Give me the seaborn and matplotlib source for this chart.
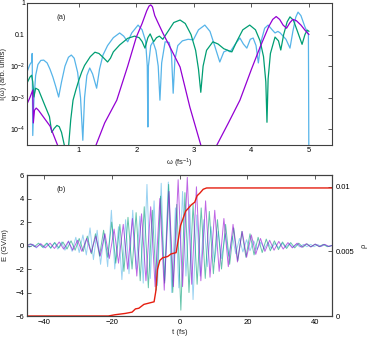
import numpy as np
import pandas as pd
import matplotlib
matplotlib.use("Agg")
import matplotlib.pyplot as plt
import seaborn as sns
from matplotlib.ticker import FixedLocator, FixedFormatter

# ---- panel (a): spectra, log10 of intensity ----
w_purple = [0.1, 0.15, 0.2, 0.21, 0.23, 0.26, 0.3, 0.4, 0.5, 0.63, 0.75, 1.0, 1.2, 1.3,
            1.45, 1.66, 1.85, 2.0, 2.1, 2.18, 2.22, 2.25, 2.28, 2.32, 2.37, 2.46, 2.6, 2.76,
            2.93, 3.12, 3.25, 3.4, 3.6, 3.8, 4.0, 4.15, 4.3, 4.37, 4.43, 4.49, 4.55, 4.61,
            4.67, 4.72, 4.78, 4.86, 4.93, 5.0]
logI_purple = [-3.2, -3.0, -2.76, -3.8, -3.4, -3.33, -3.4, -3.65, -3.9, -4.5, -5.2, -6.0, -5.2, -4.5,
               -3.8, -3.08, -2.0, -1.08, -0.65, -0.25, -0.1, -0.06, -0.12, -0.4, -0.6, -0.95, -1.45, -2.03,
               -3.3, -4.5, -5.5, -4.5, -3.8, -3.08, -2.1, -1.4, -0.75, -0.52, -0.43, -0.52, -0.7, -0.8,
               -0.62, -0.52, -0.56, -0.7, -0.86, -1.0]

w_green = [0.1, 0.15, 0.18, 0.2, 0.22, 0.25, 0.3, 0.4, 0.49, 0.53, 0.57, 0.62, 0.66, 0.7,
           0.76, 0.79, 0.82, 0.86, 0.9, 0.95, 1.0, 1.05, 1.1, 1.2, 1.28, 1.35, 1.42, 1.5,
           1.55, 1.6, 1.71, 1.85, 1.97, 2.05, 2.1, 2.15, 2.2, 2.24, 2.3, 2.35, 2.4, 2.46,
           2.55, 2.65, 2.76, 2.85, 2.95, 3.03, 3.08, 3.12, 3.16, 3.22, 3.33, 3.42, 3.52, 3.66,
           3.75, 3.85, 3.97, 4.07, 4.15, 4.21, 4.25, 4.27, 4.29, 4.33, 4.41, 4.47, 4.51, 4.56,
           4.62, 4.67, 4.73, 4.8, 4.88, 4.93, 4.97, 5.0]
logI_green = [-2.54, -2.35, -2.29, -2.5, -2.98, -2.7, -2.75, -3.2, -3.6, -4.1, -3.98, -3.88, -3.92, -4.1,
              -4.6, -5.2, -4.6, -3.7, -3.08, -2.75, -2.45, -2.19, -1.98, -1.7, -1.56, -1.6, -1.72, -1.87,
              -1.75, -1.55, -1.33, -1.12, -1.05, -1.1, -1.22, -1.43, -1.1, -0.98, -1.23, -1.1, -1.05, -1.15,
              -0.9, -0.62, -0.54, -0.65, -1.0, -1.5, -2.1, -2.83, -2.0, -1.5, -1.23, -1.3, -1.45, -1.55,
              -1.2, -0.85, -0.7, -0.85, -1.2, -1.7, -2.5, -3.78, -2.4, -1.6, -1.08, -1.2, -1.49, -1.0,
              -0.6, -0.44, -0.55, -0.9, -1.31, -1.0, -0.86, -0.9]

w_cyan = [0.1, 0.15, 0.18, 0.19, 0.2, 0.22, 0.25, 0.29, 0.34, 0.39, 0.45, 0.5, 0.55, 0.6,
          0.65, 0.7, 0.76, 0.82, 0.87, 0.92, 0.98, 1.03, 1.07, 1.1, 1.14, 1.19, 1.24, 1.31,
          1.36, 1.42, 1.5, 1.6, 1.71, 1.78, 1.85, 1.92, 2.03, 2.1, 2.16, 2.19, 2.2, 2.21,
          2.25, 2.29, 2.34, 2.38, 2.41, 2.44, 2.5, 2.57, 2.61, 2.64, 2.67, 2.72, 2.8, 2.9,
          2.99, 3.08, 3.19, 3.28, 3.36, 3.45, 3.52, 3.58, 3.63, 3.72, 3.8, 3.86, 3.92, 3.98,
          4.03, 4.08, 4.12, 4.17, 4.23, 4.29, 4.36, 4.41, 4.46, 4.5, 4.6, 4.67, 4.72, 4.77,
          4.81, 4.86, 4.93, 4.99, 5.0]
logI_cyan = [-2.19, -1.95, -1.87, -1.6, -4.2, -3.08, -2.3, -1.95, -1.82, -1.81, -1.9, -2.1, -2.35, -2.65,
             -2.98, -2.5, -2.0, -1.72, -1.65, -1.75, -2.2, -3.0, -4.35, -3.0, -2.3, -2.06, -2.25, -2.7,
             -2.1, -1.65, -1.35, -1.1, -0.95, -1.05, -1.23, -0.95, -0.7, -0.85, -1.2, -2.0, -3.93, -2.0,
             -1.35, -1.23, -1.5, -2.0, -3.08, -1.9, -1.23, -1.25, -1.6, -2.86, -1.8, -1.35, -1.2, -1.15,
             -1.17, -0.85, -0.7, -0.9, -1.35, -1.87, -1.55, -1.5, -1.55, -1.3, -1.11, -1.3, -1.43, -1.15,
             -1.11, -1.35, -1.9, -1.2, -0.8, -0.7, -0.85, -0.95, -0.9, -0.95, -1.15, -1.43, -0.9, -0.45,
             -0.29, -0.4, -0.76, -1.0, -6.0]

# ---- panel (b): field extrema (GV/m) and ionisation fraction ----
t_purple = [-45.0, -43.6, -42.3, -40.9, -39.6, -38.2, -36.9, -35.5, -34.2, -32.8, -31.5, -30.1,
            -28.8, -27.4, -26.1, -24.7, -23.4, -22.0, -20.7, -19.3, -18.0, -16.6, -15.3, -13.9,
            -12.6, -11.2, -9.9, -8.5, -7.2, -5.8, -4.5, -3.1, -1.8, -0.4, 0.9, 2.3, 3.6, 5.0,
            6.3, 7.7, 9.0, 10.4, 11.7, 13.1, 14.4, 15.8, 17.1, 18.5, 19.8, 21.2, 22.5, 23.9,
            25.2, 26.6, 27.9, 29.3, 30.6, 32.0, 33.3, 34.7, 36.0, 37.4, 38.7, 40.1, 41.4, 42.8,
            44.1, 45.0]
E_purple = [0.0, 0.12, -0.15, 0.15, -0.2, 0.2, -0.25, 0.3, -0.3, 0.35, -0.4, 0.45,
            -0.5, 0.6, -0.6, 0.8, -0.9, 1.0, -1.1, 1.4, -1.5, 1.8, -2.0, 2.3,
            -2.6, 2.7, -3.0, 3.3, -3.5, 4.0, -3.8, 4.6, -3.5, 5.6, -3.5, 5.8, -3.3, 5.0,
            -3.0, 3.8, -2.7, 3.0, -2.2, 2.3, -1.8, 1.8, -1.4, 1.2, -1.0, 0.9, -0.75, 0.6,
            -0.5, 0.45, -0.4, 0.35, -0.3, 0.25, -0.2, 0.2, -0.15, 0.15, -0.12, 0.12, -0.1, 0.1,
            -0.08, 0.0]

t_green = [-45.0, -44.0, -42.8, -41.6, -40.4, -39.2, -38.0, -36.8, -35.6, -34.4, -33.2, -32.0,
           -30.8, -29.6, -28.4, -27.2, -26.0, -24.8, -23.6, -22.4, -21.2, -20.0, -18.8, -17.6,
           -16.4, -15.2, -14.0, -12.8, -11.6, -10.4, -9.2, -8.0, -6.8, -5.6, -4.4, -3.2, -2.0,
           -0.8, 0.4, 1.6, 2.8, 4.0, 5.2, 6.4, 7.6, 8.8, 10.0, 11.2, 12.4, 13.6, 14.8, 16.0,
           17.2, 18.4, 19.6, 20.8, 22.0, 23.2, 24.4, 25.6, 26.8, 28.0, 29.2, 30.4, 31.6, 32.8,
           34.0, 35.2, 36.4, 37.6, 38.8, 40.0, 41.2, 42.4, 43.6, 45.0]
E_green = [0.0, 0.15, -0.1, 0.2, -0.15, 0.2, -0.2, 0.25, -0.2, 0.3, -0.3, 0.4,
           -0.4, 0.6, -0.5, 0.8, -0.7, 1.0, -0.9, 1.3, -1.0, 2.0, -1.5, 1.8,
           -2.2, 2.4, -2.0, 2.8, -3.0, 3.3, -3.6, 3.0, -3.8, 4.2, -3.2, 5.2, -4.0,
           3.5, -5.5, 4.5, -4.0, 3.5, -3.3, 3.2, -2.8, 2.9, -2.4, 2.2, -2.0, 1.8, -1.6, 1.5,
           -1.3, 1.2, -1.0, 1.0, -0.8, 0.7, -0.6, 0.55, -0.45, 0.4, -0.35, 0.3, -0.25, 0.25,
           -0.2, 0.2, -0.15, 0.15, -0.12, 0.12, -0.1, 0.1, -0.1, 0.0]

t_cyan = [-45.0, -44.3, -43.2, -42.2, -41.1, -40.1, -39.0, -38.0, -36.9, -35.9, -34.8, -33.8,
          -32.7, -31.7, -30.6, -29.6, -28.5, -27.5, -26.4, -25.4, -24.3, -23.3, -22.2, -21.2,
          -20.1, -19.1, -18.0, -17.0, -15.9, -14.9, -13.8, -12.8, -11.7, -10.7, -9.6, -8.6,
          -7.5, -6.5, -5.4, -4.4, -3.3, -2.3, -1.2, -0.2, 0.9, 1.9, 3.0, 4.0, 5.1, 6.1, 7.2,
          8.2, 9.3, 10.3, 11.4, 12.4, 13.5, 14.5, 15.6, 16.6, 17.7, 18.7, 19.8, 20.8, 21.9,
          22.9, 24.0, 25.0, 26.1, 27.1, 28.2, 29.2, 30.3, 31.3, 32.4, 33.4, 34.5, 35.5, 36.6,
          37.6, 38.7, 39.7, 40.8, 41.8, 42.9, 43.9, 45.0]
E_cyan = [0.0, -0.15, 0.1, -0.2, 0.15, -0.2, 0.2, -0.25, 0.25, -0.3, 0.3, -0.4,
          0.4, -0.5, 0.7, -0.6, 0.9, -0.8, 1.5, -1.2, 1.3, -1.6, 1.0, -1.8,
          3.0, -2.0, 1.6, -2.9, 2.2, -2.4, 3.0, -2.0, 2.5, -3.2, 5.2, -2.8,
          3.8, -3.4, 5.3, -3.0, 5.4, -4.0, 3.2, -3.6, 4.6, -2.6, 3.5, -4.6, 2.6, -2.6, 2.2,
          -1.8, 1.6, -1.4, 1.2, -1.1, 1.0, -0.9, 0.8, -0.7, 0.6, -0.55, 0.5, -0.45, 0.4,
          -0.35, 0.3, -0.3, 0.25, -0.25, 0.2, -0.2, 0.2, -0.15, 0.15, -0.15, 0.12, -0.12, 0.1,
          -0.1, 0.1, -0.1, 0.08, -0.08, 0.08, -0.08, 0.0]

t_rho = [-45.0, -21.0, -19.0, -16.0, -14.0, -13.0, -12.0, -11.5, -10.5, -9.0, -7.5, -7.0,
         -6.5, -5.8, -5.0, -3.5, -2.5, -1.0, -0.3, 0.3, 1.0, 1.8, 2.5, 3.5, 4.5, 5.2, 6.0,
         7.0, 8.0, 45.0]
rho = [0.0, 0.0, 0.0001, 0.0002, 0.0003, 0.00055, 0.0006, 0.0007, 0.0009, 0.001, 0.0011, 0.0019,
       0.0036, 0.0043, 0.0045, 0.0046, 0.0048, 0.0049, 0.006, 0.007, 0.0075, 0.0081, 0.0083,
       0.0086, 0.0088, 0.0093, 0.0095, 0.0098, 0.0099, 0.0099]

c_purple = "#9400d3"
c_green = "#009e73"
c_cyan = "#56b4e9"
c_red = "#e51e10"

sns.set_style("white")
plt.rcParams["font.family"] = ["Liberation Sans", "DejaVu Sans"]
plt.rcParams["mathtext.fontset"] = "custom"
plt.rcParams["mathtext.rm"] = "Liberation Sans"
plt.rcParams["mathtext.it"] = "Liberation Sans:italic"
plt.rcParams["axes.edgecolor"] = "#404040"
plt.rcParams["axes.linewidth"] = 0.8

fig = plt.figure(figsize=(3.74, 3.39), dpi=100)
ax_a = fig.add_axes([0.0722, 0.5723, 0.8155, 0.4189])
ax_b = fig.add_axes([0.0722, 0.0678, 0.8155, 0.4159])

fs = 5.5

# Panel (a)
for w, lg, c in [(w_cyan, logI_cyan, c_cyan), (w_green, logI_green, c_green),
                 (w_purple, logI_purple, c_purple)]:
    sns.lineplot(x=w, y=10 ** np.array(lg), ax=ax_a, color=c, lw=0.9, sort=False)
ax_a.set_yscale("log")
ax_a.set_xlim(0.1, 5.4)
ax_a.set_ylim(10 ** -4.5, 1)
ax_a.xaxis.set_major_locator(FixedLocator([1, 2, 3, 4, 5]))
ax_a.yaxis.set_major_locator(FixedLocator([1e-4, 1e-3, 1e-2, 0.1, 1]))
ax_a.yaxis.set_major_formatter(FixedFormatter([r"$10^{-4}$", r"$10^{-3}$", r"$10^{-2}$", "0.1", "1"]))
ax_a.yaxis.set_minor_locator(FixedLocator([]))
ax_a.tick_params(direction="in", length=3, width=0.6, top=True, right=True,
                 labelsize=fs, pad=1.5, colors="#404040", labelcolor="black")
ax_a.tick_params(axis="y", labelsize=5)
ax_a.set_xlabel(r"ω (fs$^{-1}$)", fontsize=fs, labelpad=2)
ax_a.set_ylabel("I(ω) (arb. units)", fontsize=fs)
ax_a.yaxis.set_label_coords(-0.066, 0.5)
ax_a.text(0.7, 0.35, "(a)", fontsize=fs, ha="center", va="center")

# Panel (b)
for t, e, c in [(t_cyan, E_cyan, c_cyan), (t_green, E_green, c_green),
                (t_purple, E_purple, c_purple)]:
    sns.lineplot(x=t, y=e, ax=ax_b, color=c, lw=0.7, alpha=0.6, sort=False)
ax_b.set_xlim(-45, 45)
ax_b.set_ylim(-6, 6)
ax_b.set_xticks([-40, -20, 0, 20, 40])
ax_b.set_yticks([-6, -4, -2, 0, 2, 4, 6])
ax_b.tick_params(direction="in", length=3, width=0.6, top=True, right=False,
                 labelsize=fs, pad=2, colors="#404040", labelcolor="black")
ax_b.set_xlabel("t (fs)", fontsize=fs, labelpad=2)
ax_b.set_ylabel("E (GV/m)", fontsize=fs)
ax_b.yaxis.set_label_coords(-0.06, 0.5)
ax_b.text(-34.8, 4.8, "(b)", fontsize=fs, ha="center", va="center")

ax2 = ax_b.twinx()
sns.lineplot(x=t_rho, y=rho, ax=ax2, color=c_red, lw=1.0, sort=False)
ax2.set_ylim(0, 0.0109)
ax2.set_yticks([0, 0.005, 0.01])
ax2.set_yticklabels(["0", "0.005", "0.01"])
ax2.tick_params(direction="in", length=3, width=0.6, labelsize=fs, pad=3,
                colors="#404040", labelcolor="black")
ax2.set_ylabel("ρ", fontsize=fs)
ax2.yaxis.set_label_coords(1.095, 0.5)

fig.savefig("out.png", dpi=100)
